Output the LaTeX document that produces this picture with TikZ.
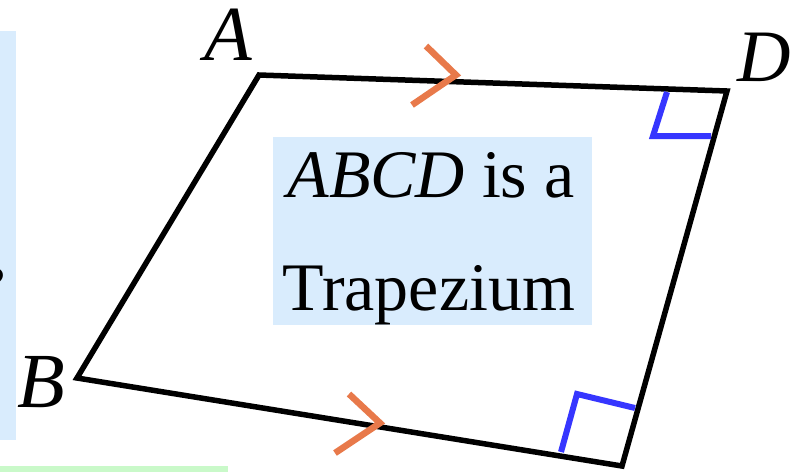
\documentclass[tikz,border=0pt]{standalone}
\usepackage{fontspec}
\setmainfont{Liberation Serif}
\definecolor{boxblue}{HTML}{D9ECFD}
\definecolor{chevcol}{HTML}{E8794A}
\definecolor{rablue}{HTML}{3636FF}
\definecolor{stripgreen}{HTML}{C9F9C9}
\tikzset{
  edge/.style={line width=5.5pt, line join=miter, black},
  chevron/.style={line width=6.5pt, chevcol, line join=miter},
  rightmark/.style={line width=6pt, rablue, line join=miter},
  vlabel/.style={inner sep=0pt, font=\fontsize{78}{86}\selectfont\itshape},
  boxtext/.style={inner sep=0pt, anchor=base, font=\fontsize{68}{80}\selectfont}
}
\begin{document}
\begin{tikzpicture}[x=1pt,y=-1pt]
\useasboundingbox (0,0) rectangle (792,472);
\clip (0,0) rectangle (792,472);
% left partial box and strip
\fill[boxblue] (0,31) rectangle (16,440);
\node[vlabel, anchor=base east] (pe) at (5,304) {e};
\fill[stripgreen] (0,466) rectangle (228,472);
% vertices
\coordinate (A) at (259,75);
\coordinate (D) at (727,91);
\coordinate (C) at (622,466);
\coordinate (B) at (77,378);
% centre box
\node[fill=boxblue, minimum width=319pt, minimum height=188pt, inner sep=0pt] (box) at (432.5,231) {};
\node[boxtext] (t1) at (431,197) {\textit{ABCD} is a};
\node[boxtext] (t2) at (429,310) {Trapezium};
% trapezium
\draw[edge] (A) -- (D) -- (C) -- (B) -- cycle;
% parallel marks
\draw[chevron] (426,46) -- (456,75) -- (412,105);
\draw[chevron] (349,394) -- (380,423) -- (335,453);
% right angle marks
\draw[rightmark] (667,92) -- (653,136) -- (711,136);
\draw[rightmark] (561,452) -- (577,394) -- (635,408);
% labels
\node[vlabel] (lA) at (228,35) {A};
\node[vlabel] (lB) at (41,382) {B};
\node[vlabel, font=\fontsize{74}{82}\selectfont\itshape] (lD) at (764,57) {D};
\end{tikzpicture}
\end{document}
